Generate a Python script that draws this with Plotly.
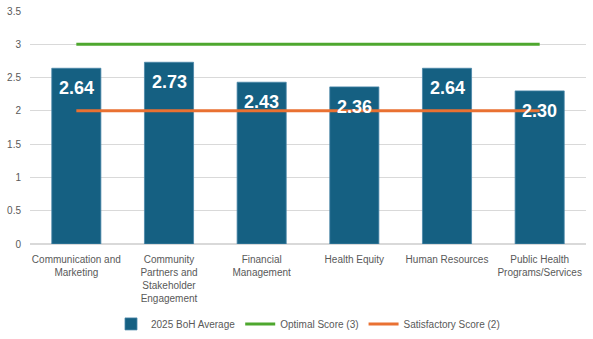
import plotly.graph_objects as go

categories = ["Communication and<br>Marketing",
              "Community<br>Partners and<br>Stakeholder<br>Engagement",
              "Financial<br>Management",
              "Health Equity",
              "Human Resources",
              "Public Health<br>Programs/Services"]
boh_average = [2.64, 2.73, 2.43, 2.36, 2.64, 2.30]
optimal = [3, 3, 3, 3, 3, 3]
satisfactory = [2, 2, 2, 2, 2, 2]

font_family = "Liberation Sans, Arial, sans-serif"
gray = "#595959"

fig = go.Figure()
fig.add_trace(go.Bar(x=categories, y=boh_average, name="2025 BoH Average",
                     marker=dict(color="#156082", line=dict(color="#4a86a8", width=0.8)),
                     width=0.53))
fig.add_trace(go.Scatter(x=categories, y=optimal, mode="lines", name="Optimal Score (3)",
                         line=dict(color="#4EA72E", width=3)))
fig.add_trace(go.Scatter(x=categories, y=satisfactory, mode="lines", name="Satisfactory Score (2)",
                         line=dict(color="#E97132", width=3)))

for c, v in zip(categories, boh_average):
    fig.add_annotation(x=c, y=v, text=f"<b>{v:.2f}</b>", showarrow=False,
                       yanchor="top", yshift=-8,
                       font=dict(color="white", size=18, family=font_family))

fig.update_layout(
    width=593, height=339,
    margin=dict(l=30, r=7, t=11, b=95, autoexpand=False),
    plot_bgcolor="white", paper_bgcolor="white",
    font=dict(family=font_family, size=10, color=gray),
    bargap=0.47,
    showlegend=True,
    legend=dict(orientation="h", x=0.5, xanchor="center", y=-0.343, yanchor="middle",
                font=dict(size=10, color=gray), itemwidth=30, traceorder="normal"),
)
fig.update_yaxes(range=[0, 3.5], dtick=0.5, showgrid=True, gridcolor="#D9D9D9", gridwidth=1,
                 zeroline=True, zerolinecolor="#D9D9D9", ticks="", tickfont=dict(size=10, color=gray),
                 ticklabelstandoff=8, automargin=False)
fig.update_xaxes(showgrid=False, ticks="", tickfont=dict(size=10, color=gray), tickangle=0,
                 automargin=False, ticklabelstandoff=8)

fig.write_html("out.html")
